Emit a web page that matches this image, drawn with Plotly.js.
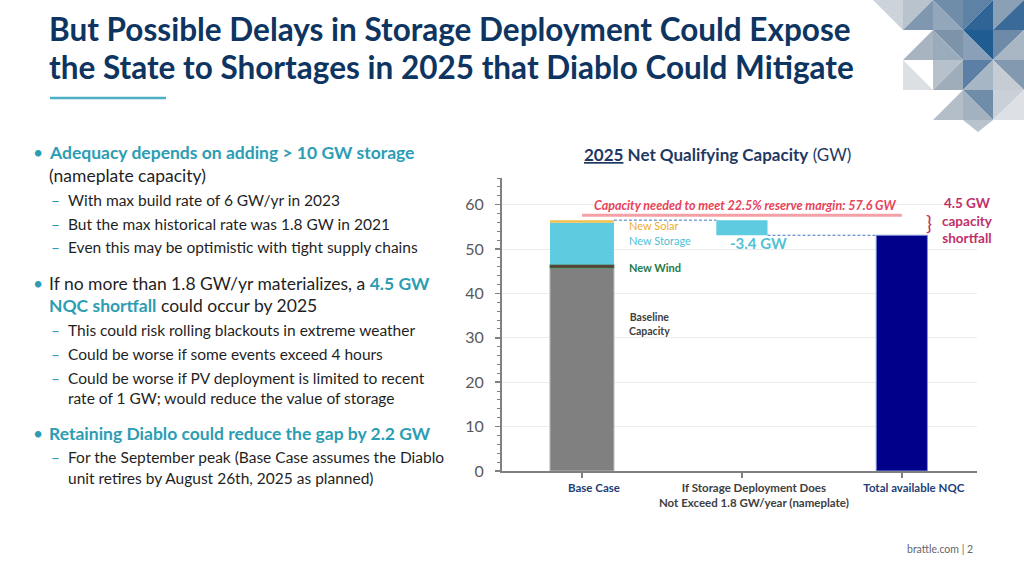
<!DOCTYPE html>
<html>
<head>
<meta charset="utf-8">
<script src="https://cdn.plot.ly/plotly-3.0.1.min.js"></script>
<style>
html,body{margin:0;padding:0;background:#fff;}
#chart{width:1024px;height:576px;}
</style>
</head>
<body>
<div id="chart"></div>
<script>
// ---------- DATA ----------
const categories = ["Base Case", "If Storage Deployment Does Not Exceed 1.8 GW/year (nameplate)", "Total available NQC"];
const tickLabels = ["Base Case", "If Storage Deployment Does<br>Not Exceed 1.8 GW/year (nameplate)", "Total available NQC"];
const baselineCapacity = [45.7, null, null];
const newWind = [0.8, null, null];
const newStorage = [9.4, null, null];
const newSolar = [0.6, null, null];
const storageDelayImpact = [null, -3.4, null];
const reserveMarginTarget = 57.6;
const yTickVals = [0, 10, 20, 30, 40, 50, 60];

// ---------- STYLE / GEOMETRY ----------
const FONT = "Lato, 'Noto Sans', sans-serif";
const TEAL = "#2c9db3";
const NAVY = "#0e3561";
const TEXT = "#1f1f1f";
const M = {l: 502, r: 47, t: 178, b: 105};
const PW = 1024 - M.l - M.r, PH = 576 - M.t - M.b;
const px = x => (x - M.l) / PW;
const py = y => 1 - (y - M.t) / PH;

// derived stack positions
const windBase = baselineCapacity[0];
const storageBase = windBase + newWind[0];
const solarBase = storageBase + newStorage[0];
const baseTotal = solarBase + newSolar[0];
const totalNQC = baseTotal + storageDelayImpact[1];
const shortfall = reserveMarginTarget - totalNQC;

const traces = [
  {type:'bar', name:'Baseline Capacity', x:[categories[0]], y:[baselineCapacity[0]], base:[0], width:0.40,
   marker:{color:'#808080', line:{color:'#b5b5b5', width:1}}},
  {type:'bar', name:'New Wind', x:[categories[0]], y:[newWind[0]], base:[windBase], width:0.40,
   marker:{color:'#5a4236', line:{color:'#2d7a4a', width:0.8}}},
  {type:'bar', name:'New Storage', x:[categories[0]], y:[newStorage[0]], base:[storageBase], width:0.40,
   marker:{color:'#5fcbe0', line:{width:0}}},
  {type:'bar', name:'New Solar', x:[categories[0]], y:[newSolar[0]], base:[solarBase], width:0.40,
   marker:{color:'#f2c04e', line:{width:0}}},
  {type:'bar', name:'Storage shortfall', x:[categories[1]], y:[storageDelayImpact[1]], base:[baseTotal], width:0.32,
   marker:{color:'#5fcbe0', line:{width:0}}},
  {type:'bar', name:'Total available NQC', x:[categories[2]], y:[totalNQC], base:[0], width:0.32,
   marker:{color:'#00008b', line:{color:'#7f8fd6', width:1}}}
];

// decorative triangles (pixel coords)
const tri = [
  [873,0,903,30,903,0,'#cdd3da'],
  [903,0,933,0,903,30,'#b9c3cd'],[933,0,933,30,903,30,'#7f98b0'],
  [933,0,963,30,933,30,'#93a7bb'],[933,0,963,0,963,30,'#6f8ca8'],
  [963,0,993,0,963,30,'#5e82a6'],[993,0,993,30,963,30,'#2f6496'],
  [993,0,1024,0,993,30,'#8aa0b5'],[1024,0,1024,30,993,30,'#3a6a98'],
  [933,30,933,60,903,60,'#a8b4c0'],
  [933,30,963,30,963,60,'#7d93a9'],[933,30,933,60,963,60,'#9aabbb'],
  [963,30,993,30,993,60,'#1f5c92'],[963,30,963,60,993,60,'#8aa0b8'],
  [993,30,1024,30,993,60,'#6d8aa8'],[1024,30,1024,60,993,60,'#a9b7c5'],
  [903,60,903,90,933,90,'#dcdfe3'],
  [933,60,963,60,933,90,'#b7c1cb'],[963,60,963,90,933,90,'#9facb9'],
  [963,60,993,60,963,90,'#5c80a5'],[993,60,993,90,963,90,'#a7b6c4'],
  [993,60,1024,60,1024,90,'#8399af'],[993,60,993,90,1024,90,'#c5ccd4'],
  [933,120,963,90,963,120,'#b4bec8'],
  [963,90,993,90,993,120,'#6f8ca8'],[963,90,963,120,993,120,'#a4b2c0'],
  [993,90,1024,90,993,120,'#c9d0d7'],[1024,90,1024,120,993,120,'#dde1e5'],
  [963,120,993,120,978,132,'#b8c3ce']
];

const shapes = tri.map(t => ({
  type:'path', xref:'paper', yref:'paper', layer:'below',
  path:`M ${px(t[0])} ${py(t[1])} L ${px(t[2])} ${py(t[3])} L ${px(t[4])} ${py(t[5])} Z`,
  fillcolor:t[6], line:{width:0}
}));

// title underline
shapes.push({type:'line', xref:'paper', yref:'paper', x0:px(50), x1:px(166), y0:py(98), y1:py(98),
  line:{color:'#4bb0c4', width:2.5}});
// reserve margin line
shapes.push({type:'line', xref:'x', yref:'y', x0:0, x1:2, y0:reserveMarginTarget, y1:reserveMarginTarget,
  line:{color:'#f5a0a6', width:3}});
// dashed connectors
shapes.push({type:'line', xref:'x', yref:'y', x0:0.2, x1:0.84, y0:baseTotal, y1:baseTotal,
  line:{color:'#4472c4', width:1, dash:'3px,2px'}});
shapes.push({type:'line', xref:'x', yref:'y', x0:1.16, x1:1.84, y0:totalNQC, y1:totalNQC,
  line:{color:'#4472c4', width:1, dash:'3px,2px'}});

const ann = [];
function T(x, y, text, size, color, extra) {
  ann.push(Object.assign({xref:'paper', yref:'paper', x:px(x), y:py(y), text:text, showarrow:false,
    xanchor:'left', yanchor:'middle', font:{family:FONT, size:size, color:color}}, extra || {}));
}
// slide title
T(47, 29, '<b>But Possible Delays in Storage Deployment Could Expose</b>', 31.5, NAVY);
T(47, 67, '<b>the State to Shortages in 2025 that Diablo Could Mitigate</b>', 31.5, NAVY);

// bullets
const tb = s => `<b><span style="color:${TEAL}">${s}</span></b>`;
const MAIN = 17.5, SUB = 15.5;
function bullet(y, text) { T(31, y, '•', MAIN, TEAL); T(47, y, text, MAIN, TEXT); }
function sub(y, text) { T(49, y, '–', SUB, TEAL); T(66, y, text, SUB, TEXT); }
bullet(152, tb('Adequacy depends on adding &gt; 10 GW storage'));
T(47, 175, '(nameplate capacity)', MAIN, TEXT);
sub(200, 'With max build rate of 6 GW/yr in 2023');
sub(224, 'But the max historical rate was 1.8 GW in 2021');
sub(247, 'Even this may be optimistic with tight supply chains');
bullet(283, 'If no more than 1.8 GW/yr materializes, a ' + tb('4.5 GW'));
T(47, 305, tb('NQC shortfall') + ' could occur by 2025', MAIN, TEXT);
sub(330, 'This could risk rolling blackouts in extreme weather');
sub(354, 'Could be worse if some events exceed 4 hours');
sub(378, 'Could be worse if PV deployment is limited to recent');
T(66, 398, 'rate of 1 GW; would reduce the value of storage', SUB, TEXT);
bullet(433, tb('Retaining Diablo could reduce the gap by 2.2 GW'));
sub(457, 'For the September peak (Base Case assumes the Diablo');
T(66, 478, 'unit retires by August 26th, 2025 as planned)', SUB, TEXT);

// chart title
T(717, 155, '<b><u>2025</u> Net Qualifying Capacity</b> (GW)', 17, '#1f3864', {xanchor:'center'});
// footer
T(905, 549, 'brattle.com | 2', 10.5, '#666666');

// in-chart annotations
function D(x, y, text, size, color, extra) {
  ann.push(Object.assign({xref:'x', yref:'y', x:x, y:y, text:text, showarrow:false,
    xanchor:'left', yanchor:'middle', font:{family:FONT, size:size, color:color}}, extra || {}));
}
D(1, reserveMarginTarget, `<b><i>Capacity needed to meet 22.5% reserve margin: ${reserveMarginTarget} GW</i></b>`, 12.5, '#e8435a',
  {xanchor:'center', yanchor:'bottom', xshift:4, yshift:0});
D(0.28, 55.2, 'New Solar', 11, '#f0ad2c');
D(0.28, 52.0, 'New Storage', 11, '#52bfd6');
D(0.28, 45.9, '<b>New Wind</b>', 11, '#237a4b');
D(0.28, 33.1, '<b>Baseline<br>Capacity</b>', 10.5, '#404040');
D(1, 51.4, `<b>${storageDelayImpact[1]} GW</b>`, 15, '#52bfd6', {xanchor:'center', xshift:17});
T(929, 222, '}', 20, '#c0306a', {xanchor:'center'});
T(967, 220, `<b>${shortfall.toFixed(1)} GW<br>capacity<br>shortfall</b>`, 13.5, '#c0306a', {xanchor:'center'});

const labelColors = ['#1f3f77', '#404040', '#1f3f77'];
const layout = {
  width:1024, height:576,
  margin:M,
  paper_bgcolor:'#ffffff', plot_bgcolor:'#ffffff',
  barmode:'overlay', showlegend:false,
  font:{family:FONT},
  xaxis:{type:'category', range:[-0.5, 2.47], fixedrange:true,
    tickmode:'array', tickvals:categories,
    ticktext:tickLabels.map((t,i)=>`<b><span style="color:${labelColors[i]}">${t}</span></b>`),
    ticks:'outside', ticklen:5, tickcolor:'#808080', tickwidth:1.5,
    ticklabelshift:12,
    tickfont:{family:FONT, size:11.5, color:'#404040'},
    showline:true, linecolor:'#808080', linewidth:2, showgrid:false, zeroline:false},
  yaxis:{range:[0, 66], fixedrange:true, tickmode:'array', tickvals:yTickVals,
    ticks:'outside', ticklen:5, tickcolor:'#808080', tickwidth:1.5,
    minor:{dtick:2, ticks:'outside', ticklen:3, tickcolor:'#808080', tickwidth:1, showgrid:false},
    tickfont:{family:FONT, size:16, color:'#595959'}, ticklabelstandoff:8,
    showline:true, linecolor:'#808080', linewidth:2,
    showgrid:true, gridcolor:'#ececec', gridwidth:1, zeroline:false},
  shapes:shapes,
  annotations:ann
};

Plotly.newPlot('chart', traces, layout, {staticPlot:true, displayModeBar:false});
</script>
</body>
</html>
